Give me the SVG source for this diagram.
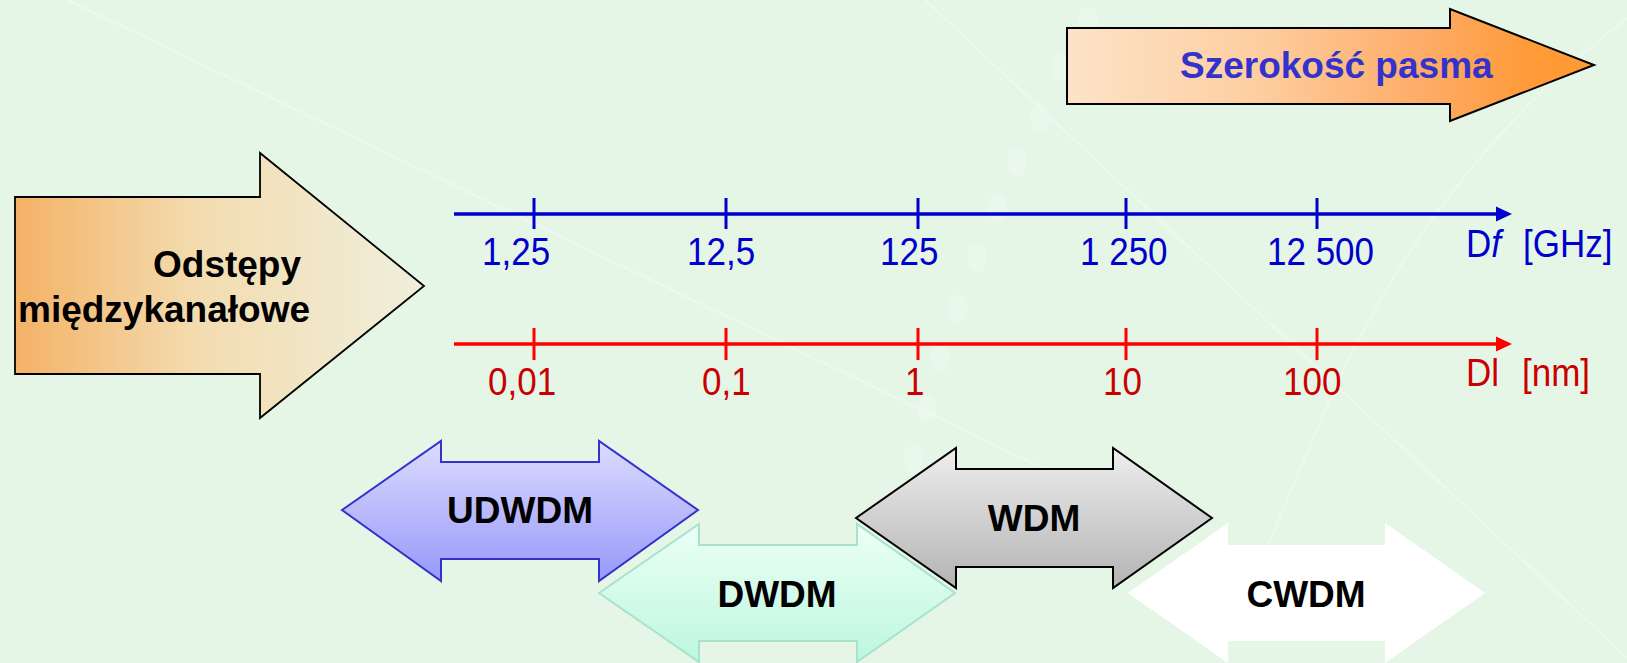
<svg xmlns="http://www.w3.org/2000/svg" width="1627" height="663" viewBox="0 0 1627 663">
  <defs>
    <style>
      text { font-family: "Liberation Sans", Arial, Helvetica, sans-serif; }
      .lbl { font-size: 37px; font-weight: bold; fill: #000; text-anchor: middle; }
      .title { font-size: 37px; font-weight: bold; }
      .ax { font-size: 35px; }
      .blue { fill: #0000cc; }
      .red { fill: #c80000; }
      .bg-line { fill: none; stroke: #ffffff; stroke-opacity: 0.3; stroke-width: 2; }
      .bg-dot { fill: #ffffff; fill-opacity: 0.2; }
      .axis-b { stroke: #0000cc; stroke-width: 3.5; fill: none; }
      .axis-r { stroke: #ff0000; stroke-width: 3.5; fill: none; }
      .tick-b { stroke: #0000cc; stroke-width: 3; }
      .tick-r { stroke: #ff0000; stroke-width: 3; }
    </style>
    <linearGradient id="gLeft" x1="0" y1="0" x2="1" y2="0">
      <stop offset="0" stop-color="#f4b266"/>
      <stop offset="0.45" stop-color="#f3dcb0"/>
      <stop offset="1" stop-color="#efefdc"/>
    </linearGradient>
    <linearGradient id="gTop" x1="0" y1="0" x2="1" y2="0">
      <stop offset="0" stop-color="#fde3c8"/>
      <stop offset="0.35" stop-color="#fdcfa2"/>
      <stop offset="0.7" stop-color="#fdaa62"/>
      <stop offset="0.88" stop-color="#ff9a38"/>
      <stop offset="1" stop-color="#ff9933"/>
    </linearGradient>
    <linearGradient id="gUd" x1="0" y1="0" x2="0" y2="1">
      <stop offset="0" stop-color="#dcdcff"/>
      <stop offset="1" stop-color="#9898fa"/>
    </linearGradient>
    <linearGradient id="gDw" x1="0" y1="0" x2="0" y2="1">
      <stop offset="0" stop-color="#ecfff6"/>
      <stop offset="1" stop-color="#bdf7df"/>
    </linearGradient>
    <linearGradient id="gW" x1="0" y1="0" x2="0" y2="1">
      <stop offset="0" stop-color="#eeeeee"/>
      <stop offset="1" stop-color="#b3b3b3"/>
    </linearGradient>
    <marker id="headB" markerUnits="userSpaceOnUse" markerWidth="16" markerHeight="16" refX="4" refY="8" orient="auto">
      <path d="M0,0.5 L16,8 L0,15.5 z" fill="#0000cc"/>
    </marker>
    <marker id="headR" markerUnits="userSpaceOnUse" markerWidth="16" markerHeight="16" refX="4" refY="8" orient="auto">
      <path d="M0,0.5 L16,8 L0,15.5 z" fill="#ff0000"/>
    </marker>
  </defs>

  <!-- backdrop -->
  <rect x="0" y="0" width="1627" height="663" fill="#e5f6e7"/>
  <g id="backdrop">
    <path class="bg-line" d="M68,0 L1330,606"/>
    <path class="bg-line" d="M925,0 L1627,658"/>
    <path class="bg-line" stroke-opacity="0.18" d="M1627,18 Q1430,170 1330,400 T1225,663"/>
    <ellipse class="bg-dot" cx="1088" cy="20" rx="10" ry="14"/>
    <ellipse class="bg-dot" cx="1062" cy="67" rx="10" ry="14"/>
    <ellipse class="bg-dot" cx="1040" cy="117" rx="10" ry="14"/>
    <ellipse class="bg-dot" cx="1017" cy="162" rx="10" ry="14"/>
    <ellipse class="bg-dot" cx="997" cy="208" rx="10" ry="14"/>
    <ellipse class="bg-dot" cx="977" cy="258" rx="10" ry="14"/>
    <ellipse class="bg-dot" cx="958" cy="308" rx="10" ry="14"/>
    <ellipse class="bg-dot" cx="940" cy="359" rx="10" ry="14"/>
    <ellipse class="bg-dot" cx="927" cy="409" rx="10" ry="14"/>
    <ellipse class="bg-dot" cx="913" cy="459" rx="10" ry="14"/>
  </g>

  <!-- channel spacing arrow -->
  <g id="spacing">
    <polygon points="15,197 260,197 260,153 424,286 260,418 260,374 15,374" fill="url(#gLeft)" stroke="#000" stroke-width="1.8"/>
    <text class="title" x="153" y="277">Odstępy</text>
    <text class="title" x="18" y="322">międzykanałowe</text>
  </g>

  <!-- bandwidth arrow -->
  <g id="bandwidth">
    <polygon points="1067,28 1450,28 1450,9 1594,65 1450,121 1450,104 1067,104" fill="url(#gTop)" stroke="#000" stroke-width="2"/>
    <text class="title" x="1180" y="78" fill="#3333cc">Szerokość pasma</text>
  </g>

  <!-- scales -->
  <g id="axes">
    <line class="axis-b" x1="454" y1="214" x2="1500" y2="214" marker-end="url(#headB)"/>
    <line class="tick-b" x1="534" y1="198" x2="534" y2="229"/>
    <line class="tick-b" x1="726" y1="198" x2="726" y2="229"/>
    <line class="tick-b" x1="918" y1="198" x2="918" y2="229"/>
    <line class="tick-b" x1="1126" y1="198" x2="1126" y2="229"/>
    <line class="tick-b" x1="1317" y1="198" x2="1317" y2="229"/>

    <line class="axis-r" x1="454" y1="344" x2="1500" y2="344" marker-end="url(#headR)"/>
    <line class="tick-r" x1="534" y1="328" x2="534" y2="360"/>
    <line class="tick-r" x1="726" y1="328" x2="726" y2="360"/>
    <line class="tick-r" x1="918" y1="328" x2="918" y2="360"/>
    <line class="tick-r" x1="1126" y1="328" x2="1126" y2="360"/>
    <line class="tick-r" x1="1317" y1="328" x2="1317" y2="360"/>
  </g>

  <!-- scale labels, drawn slightly tall (y values divided by 1.1) -->
  <g id="freq-labels" class="ax blue" transform="scale(1,1.1)">
    <text x="482" y="240.9">1,25</text>
    <text x="687" y="240.9">12,5</text>
    <text x="880" y="240.9">125</text>
    <text x="1080" y="240.9">1 250</text>
    <text x="1267" y="240.9">12 500</text>
    <text x="1466" y="233.6">D<tspan font-style="italic">f</tspan></text>
    <text x="1523" y="233.6">[GHz]</text>
  </g>

  <g id="wave-labels" class="ax red" transform="scale(1,1.1)">
    <text x="488" y="359.1">0,01</text>
    <text x="702" y="359.1">0,1</text>
    <text x="905" y="359.1">1</text>
    <text x="1103" y="359.1">10</text>
    <text x="1283" y="359.1">100</text>
    <text x="1466" y="350.9">Dl</text>
    <text x="1522" y="350.9">[nm]</text>
  </g>

  <!-- multiplexing ranges -->
  <g id="udwdm">
    <polygon points="342,510 441,441 441,462 599,462 599,441 698,510 599,581 599,559 441,559 441,581" fill="url(#gUd)" stroke="#3333cc" stroke-width="2"/>
    <text class="lbl" x="520" y="523">UDWDM</text>
  </g>
  <g id="dwdm">
    <polygon points="599,593 699,524 699,545 857,545 857,524 955,593 857,662 857,641 699,641 699,662" fill="url(#gDw)" stroke="#a8e2cc" stroke-width="2"/>
    <text class="lbl" x="777" y="607">DWDM</text>
  </g>
  <g id="wdm">
    <polygon points="856,518 956,448 956,469 1113,469 1113,448 1212,518 1113,588 1113,567 956,567 956,588" fill="url(#gW)" stroke="#000" stroke-width="2"/>
    <text class="lbl" x="1034" y="531">WDM</text>
  </g>
  <g id="cwdm">
    <polygon points="1128,593 1228,523 1228,545 1385,545 1385,523 1485,593 1385,663 1385,641 1228,641 1228,663" fill="#ffffff"/>
    <text class="lbl" x="1306" y="607">CWDM</text>
  </g>
</svg>
